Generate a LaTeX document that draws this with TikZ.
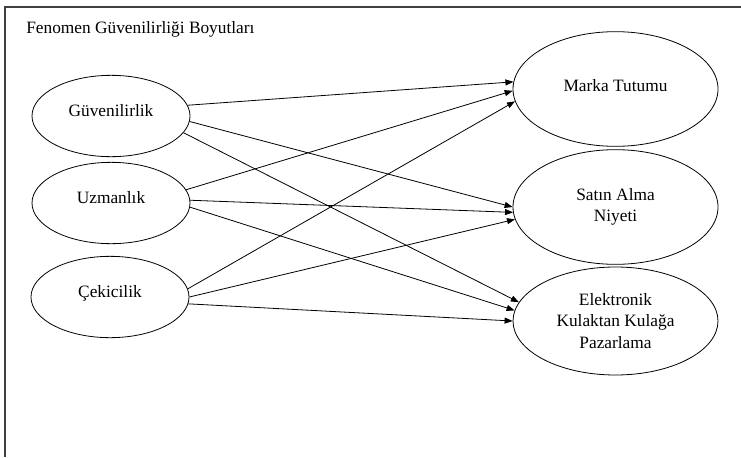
\documentclass[tikz,border=0pt]{standalone}
\usepackage{fontspec}
\setmainfont{Liberation Serif}
\usetikzlibrary{arrows.meta,shapes.geometric}

\begin{document}
\begin{tikzpicture}[x=0.75pt,y=-0.75pt]
\tikzset{every node/.style={font=\fontsize{13}{16}\selectfont}}
\tikzset{dim/.style={draw,ellipse,line width=0.6pt,minimum width=118.5pt,minimum height=61pt,inner sep=0pt,text height=9pt,text depth=9pt}}
\tikzset{outcome/.style={draw,ellipse,line width=0.6pt,minimum width=153.75pt,minimum height=86pt,inner sep=0pt,align=center}}
\tikzset{link/.style={line width=0.6pt,-{Triangle[length=6pt,width=4.5pt]}}}
\useasboundingbox (0,0) rectangle (741,457);
\draw[line width=0.8pt,black!75] (5,457) -- (5,7) -- (741,7);
\node[anchor=base west,inner sep=0pt] (title) at (26,33) {Fenomen Güvenilirliği Boyutları};
\node[dim] (guv) at (111,116) {Güvenilirlik};
\node[dim] (uzm) at (111,203) {Uzmanlık};
\node[dim] (cek) at (110,297) {Çekicilik};
\node[outcome,text height=9pt,text depth=6pt] (marka) at (615.5,89) {Marka Tutumu};
\node[outcome] (satin) at (615.5,207) {Satın Alma\\Niyeti};
\node[outcome,minimum height=81pt] (ekkp) at (615.5,321) {Elektronik\\Kulaktan Kulağa\\Pazarlama};
\draw[link] (guv.8) -- (marka.176);
\draw[link] (guv.-4) -- (satin.180);
\draw[link] (guv.-13.5) -- (ekkp.169);
\draw[link] (uzm.10) -- (marka.181.7);
\draw[link] (uzm.2) -- (satin.183.4);
\draw[link] (uzm.-3.6) -- (ekkp.174.8);
\draw[link] (cek.6.6) -- (marka.187.4);
\draw[link] (cek.0) -- (satin.187);
\draw[link] (cek.-5.7) -- (ekkp.180.5);
\end{tikzpicture}
\end{document}
